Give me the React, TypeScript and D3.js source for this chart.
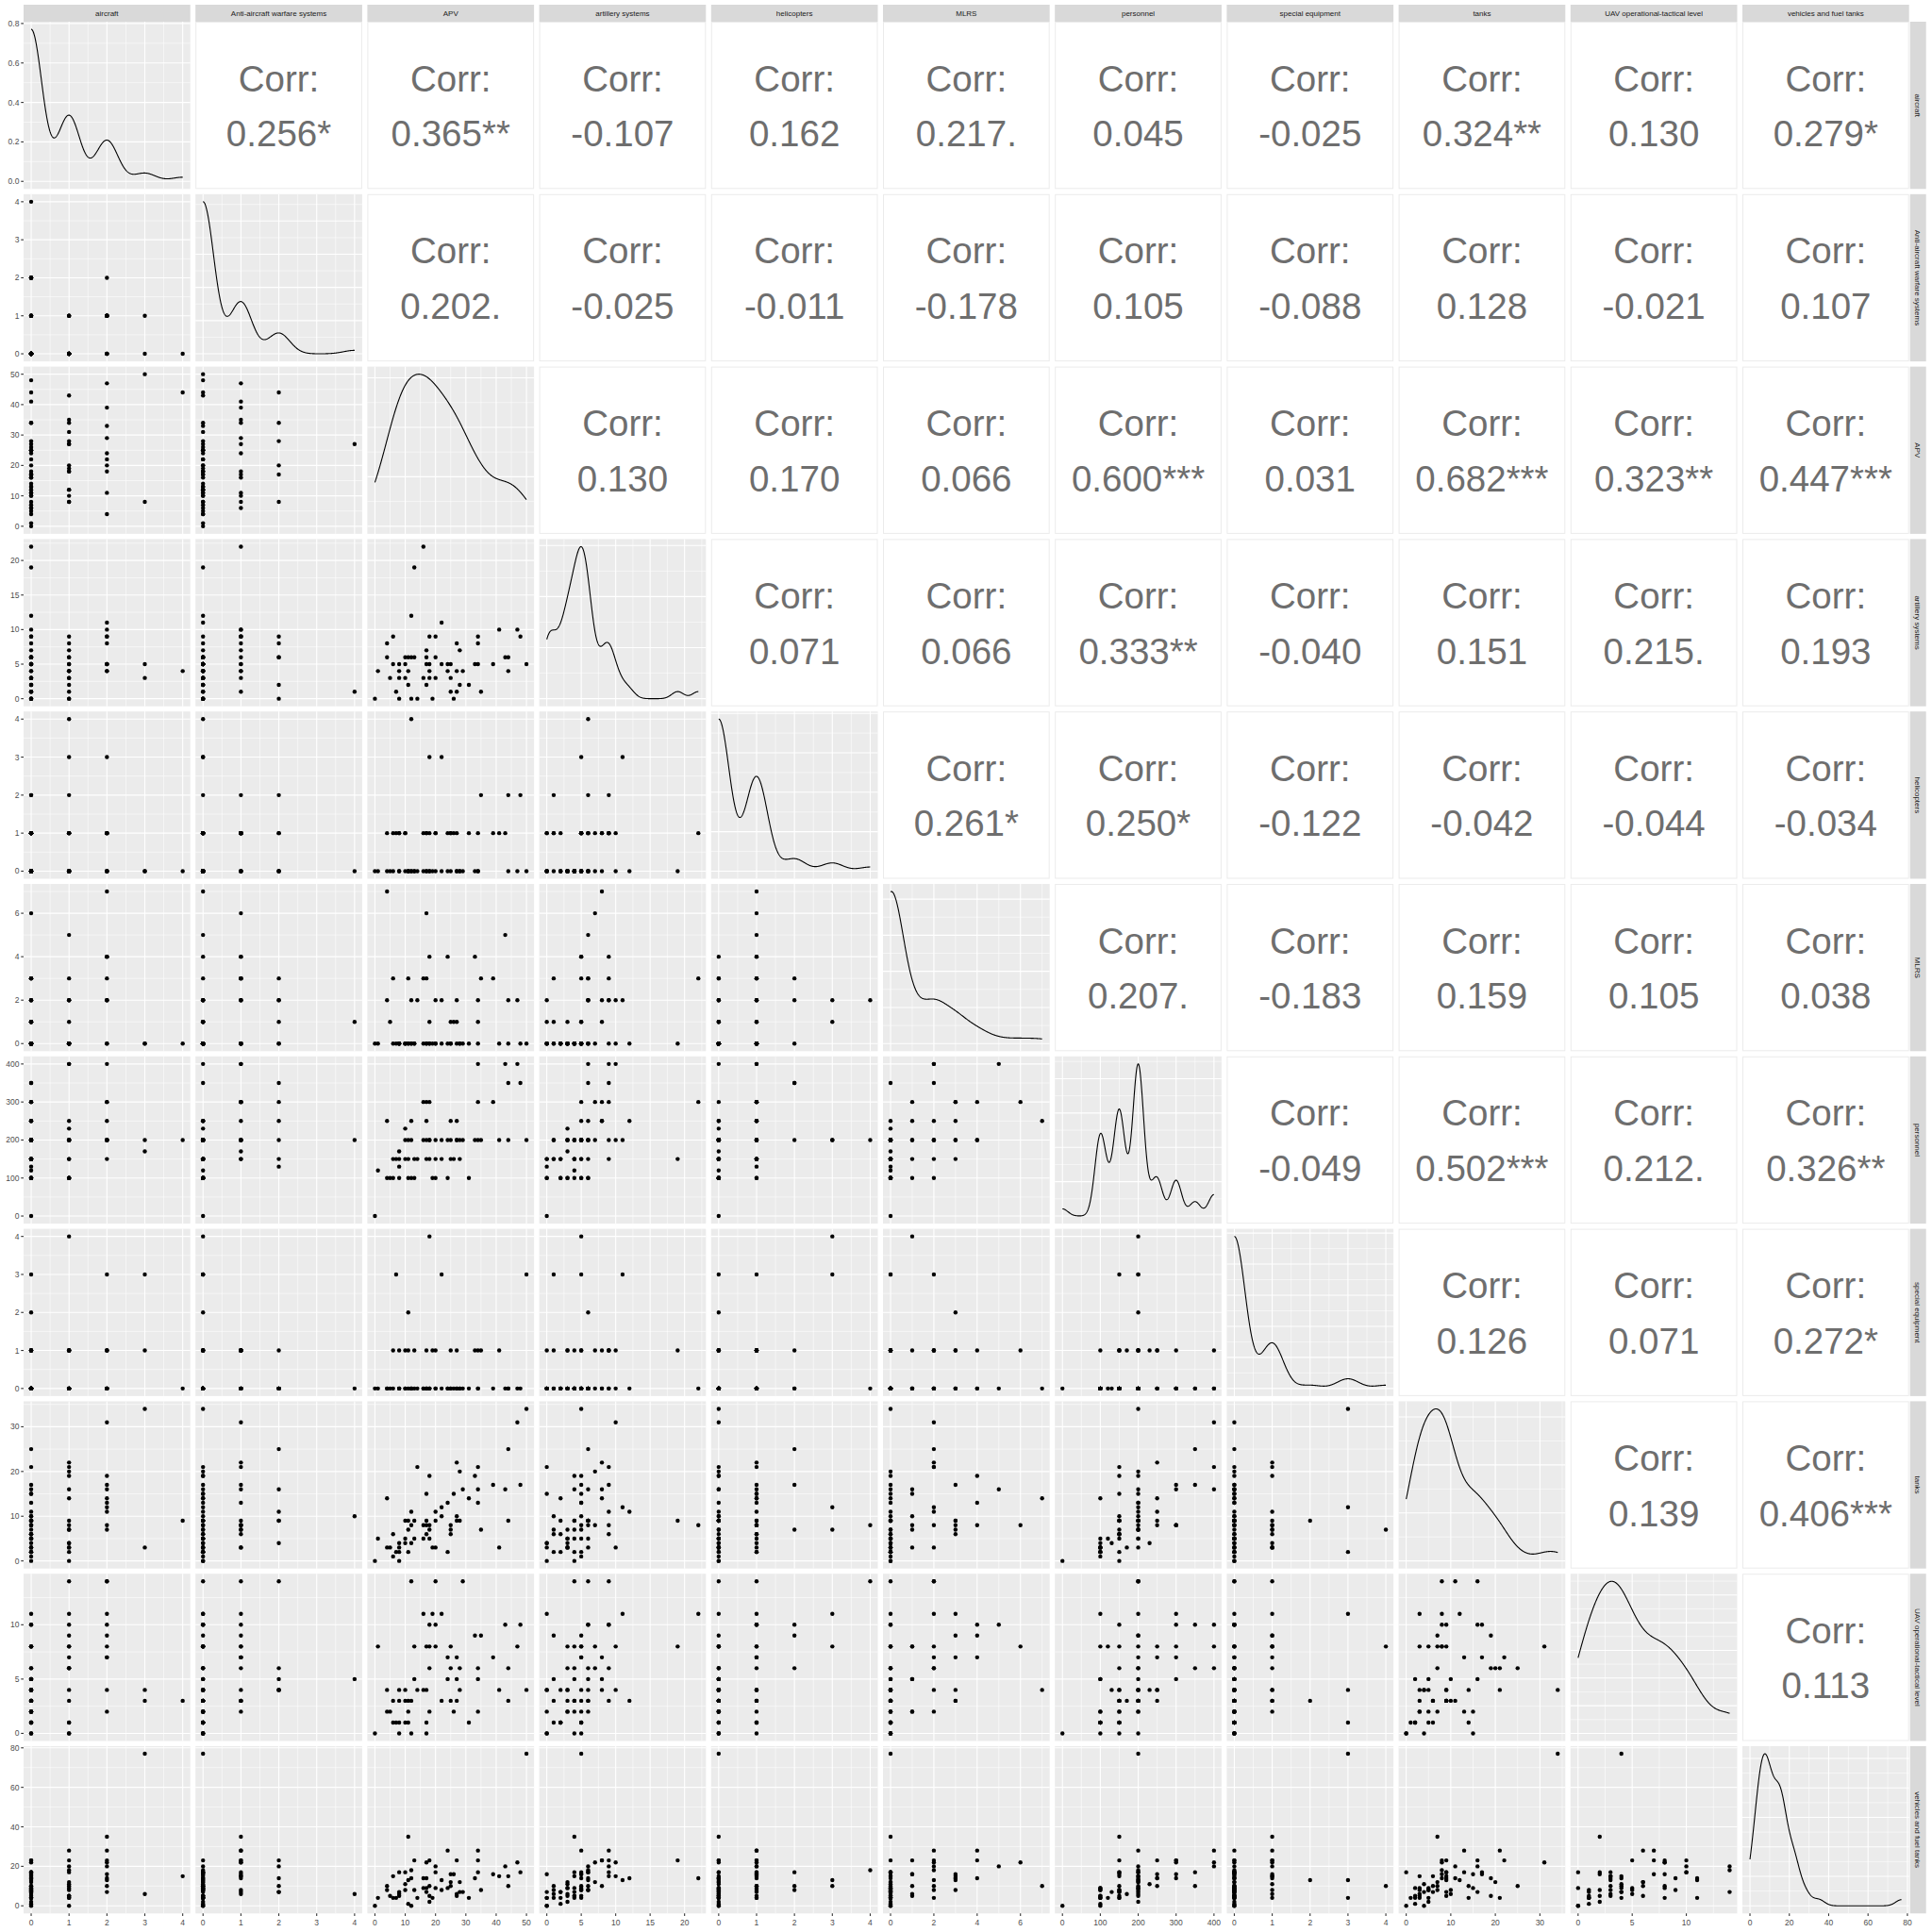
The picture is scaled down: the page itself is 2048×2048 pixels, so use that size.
import React from "react";
import * as d3 from "d3";

// ---- variables (one row per observation) ----
const varNames = [
  "aircraft",
  "Anti-aircraft warfare systems",
  "APV",
  "artillery systems",
  "helicopters",
  "MLRS",
  "personnel",
  "special equipment",
  "tanks",
  "UAV operational-tactical level",
  "vehicles and fuel tanks",
];

const apv = [0,1,4,4,5,6,6,7,8,8,8,8,10,10,10,11,11,11,12,12,12,13,13,14,16,17,18,16,17,17,17,18,18,18,19,20,20,20,22,22,24,24,25,25,25,26,27,27,27,28,28,29,31,33,34,34,34,35,39,41,43,44,44,48,47,50];
const tanks = [0,5,14,3,3,6,1,2,2,3,4,0,5,4,9,9,7,2,8,11,4,9,5,21,8,8,8,5,9,15,6,7,19,5,3,3,11,9,12,10,13,2,8,7,6,15,22,10,9,9,20,16,14,19,21,16,13,7,17,3,16,9,25,17,31,34];
const artillery = [0,4,8,6,3,9,5,1,5,3,0,4,5,3,6,6,4,2,6,12,0,19,6,0,22,7,9,3,6,5,2,5,4,3,0,3,9,6,11,5,5,4,5,3,1,0,8,1,4,2,7,4,2,5,9,8,5,1,5,10,6,4,6,9,10,5];
const helicopters = [0,0,1,0,0,1,0,1,1,0,1,0,1,0,1,0,0,0,4,0,0,0,0,0,1,1,1,0,0,1,0,3,0,0,0,0,1,1,3,0,1,0,1,0,1,1,1,0,0,0,0,0,1,0,1,0,0,2,1,1,1,0,2,2,0,0];
const mlrs = [0,0,7,2,1,3,0,0,0,0,0,0,0,0,0,3,0,0,2,0,0,0,0,2,3,6,4,0,3,0,0,1,0,0,0,0,2,0,2,0,4,0,1,0,0,1,2,1,0,0,0,0,0,4,2,1,0,3,3,0,5,0,2,0,2,0];
const personnel = [0,120,250,100,100,150,100,150,100,170,130,150,150,230,200,200,150,100,200,250,100,150,100,150,300,300,300,200,250,200,150,200,150,200,100,100,200,150,200,150,200,100,250,200,150,150,250,200,200,150,200,200,100,200,400,300,200,200,300,200,400,200,350,350,400,200];
const specialEquipment = [0,0,0,0,0,1,0,3,0,1,0,0,0,1,0,2,1,0,0,0,0,1,0,0,0,1,0,0,0,0,0,4,0,0,1,0,1,0,3,0,0,0,1,0,0,0,1,0,0,0,0,0,0,1,1,0,0,1,0,1,0,0,0,0,0,3];
const uav = [0,8,4,2,2,3,1,1,1,3,4,0,1,4,3,3,2,1,14,3,0,8,5,4,11,8,10,4,4,0,1,8,6,2,11,8,14,10,11,3,7,5,8,6,3,2,7,5,3,4,6,14,1,9,6,5,2,9,7,4,10,3,6,10,8,4];
const vehicles = [0,4,10,8,5,15,4,4,5,6,7,17,8,11,17,13,35,1,18,14,0,23,8,4,14,22,23,9,14,9,7,10,5,2,4,9,20,17,13,8,28,9,16,12,10,16,23,6,5,7,12,7,4,14,28,23,17,8,16,15,20,15,10,17,22,77];
const aircraft = [0,0,2,0,0,0,0,0,1,3,0,1,0,1,0,0,2,0,1,0,1,0,0,0,0,0,2,0,0,0,0,1,1,0,1,1,2,0,2,0,2,0,0,0,0,0,1,0,1,0,1,2,1,2,1,0,0,1,2,0,1,4,0,0,2,3];
const antiAircraft = [0,0,0,0,0,1,0,0,0,1,2,0,0,0,1,0,1,0,0,0,0,0,0,0,1,1,1,0,2,0,0,0,0,0,0,0,2,0,0,0,1,0,0,0,0,0,1,4,0,2,0,1,0,0,1,2,0,1,1,1,0,0,2,0,1,0];

const columns = [aircraft, antiAircraft, apv, artillery, helicopters, mlrs, personnel, specialEquipment, tanks, uav, vehicles];

// ---- axis tick labels per variable ----
const tickValues = [
  [0, 1, 2, 3, 4],
  [0, 1, 2, 3, 4],
  [0, 10, 20, 30, 40, 50],
  [0, 5, 10, 15, 20],
  [0, 1, 2, 3, 4],
  [0, 2, 4, 6],
  [0, 100, 200, 300, 400],
  [0, 1, 2, 3, 4],
  [0, 10, 20, 30],
  [0, 5, 10],
  [0, 20, 40, 60, 80],
];

// ---- correlation labels (upper triangle, row by row) ----
const corrRow0 = ["0.256*", "0.365**", "-0.107", "0.162", "0.217.", "0.045", "-0.025", "0.324**", "0.130", "0.279*"];
const corrRow1 = ["0.202.", "-0.025", "-0.011", "-0.178", "0.105", "-0.088", "0.128", "-0.021", "0.107"];
const corrRow2 = ["0.130", "0.170", "0.066", "0.600***", "0.031", "0.682***", "0.323**", "0.447***"];
const corrRow3 = ["0.071", "0.066", "0.333**", "-0.040", "0.151", "0.215.", "0.193"];
const corrRow4 = ["0.261*", "0.250*", "-0.122", "-0.042", "-0.044", "-0.034"];
const corrRow5 = ["0.207.", "-0.183", "0.159", "0.105", "0.038"];
const corrRow6 = ["-0.049", "0.502***", "0.212.", "0.326**"];
const corrRow7 = ["0.126", "0.071", "0.272*"];
const corrRow8 = ["0.139", "0.406***"];
const corrRow9 = ["0.113"];
const corrRows = [corrRow0, corrRow1, corrRow2, corrRow3, corrRow4, corrRow5, corrRow6, corrRow7, corrRow8, corrRow9];

// ---- helpers ----
function bwNrd0(x: number[]) {
  const s = [...x].sort((a, b) => a - b);
  const hi = d3.deviation(s) || 0;
  const iqr = (d3.quantile(s, 0.75) || 0) - (d3.quantile(s, 0.25) || 0);
  let lo = Math.min(hi, iqr / 1.34);
  if (!lo) lo = hi || Math.abs(s[0]) || 1;
  return 0.9 * lo * Math.pow(s.length, -0.2);
}

function kde(x: number[]) {
  const bw = bwNrd0(x);
  const [mn, mx] = d3.extent(x) as [number, number];
  const n = 512;
  const out: [number, number][] = [];
  const c = 1 / (x.length * bw * Math.sqrt(2 * Math.PI));
  for (let i = 0; i < n; i++) {
    const g = mn + ((mx - mn) * i) / (n - 1);
    let s = 0;
    for (const xi of x) {
      const z = (g - xi) / bw;
      s += Math.exp(-0.5 * z * z);
    }
    out.push([g, s * c]);
  }
  return out;
}

function minorBreaks(major: number[], dom: number[]) {
  if (major.length < 2) return [];
  const step = major[1] - major[0];
  const ext = [major[0] - step, ...major, major[major.length - 1] + step];
  const mids: number[] = [];
  for (let i = 0; i < ext.length - 1; i++) mids.push((ext[i] + ext[i + 1]) / 2);
  return mids.filter((m) => m >= dom[0] && m <= dom[1]);
}

const FONT = "'Liberation Sans', Arial, Helvetica, sans-serif";

export default function App() {
  const N = columns.length;
  const left0 = 25, top0 = 23, pw = 176.7, ph = 177.3, gx = 5.5, gy = 5.5;
  const colX = (c: number) => left0 + c * (pw + gx);
  const rowY = (r: number) => top0 + r * (ph + gy);

  const domains = columns.map((v) => {
    const [mn, mx] = d3.extent(v) as [number, number];
    const pad = (mx - mn) * 0.05;
    return [mn - pad, mx + pad];
  });
  const xScales = domains.map((d) => d3.scaleLinear().domain(d).range([0, pw]));
  const yScales = domains.map((d) => d3.scaleLinear().domain(d).range([ph, 0]));

  const dens = columns.map((v) => kde(v));
  const densInfo = dens.map((dd) => {
    const mx = d3.max(dd, (p) => p[1]) as number;
    const dom = [-0.05 * mx, 1.05 * mx];
    const ys = d3.scaleLinear().domain(dom).range([ph, 0]);
    const ticks = d3.ticks(0, mx * 1.05, 4).filter((t) => t >= dom[0] && t <= dom[1]);
    return { ys, ticks, dom };
  });

  const panels: React.ReactNode[] = [];
  const clipDefs: React.ReactNode[] = [];

  for (let r = 0; r < N; r++) {
    for (let c = 0; c < N; c++) {
      const tx = colX(c), ty = rowY(r);
      const key = `p${r}-${c}`;
      if (c > r) {
        const label = corrRows[r][c - r - 1];
        panels.push(
          <g key={key} transform={`translate(${tx},${ty})`}>
            <rect x={0.5} y={0.5} width={pw - 1} height={ph - 1} fill="#FFFFFF" stroke="#EBEBEB" strokeWidth={1} />
            <text x={pw / 2} y={ph / 2 - 15} textAnchor="middle" fontSize={38.5} fill="#6E6E6E" fontFamily={FONT}>Corr:</text>
            <text x={pw / 2} y={ph / 2 + 43.5} textAnchor="middle" fontSize={38.5} fill="#6E6E6E" fontFamily={FONT}>{label}</text>
          </g>
        );
        continue;
      }
      const xs = xScales[c];
      const xMaj = tickValues[c].filter((t) => t >= domains[c][0] && t <= domains[c][1]);
      const xMin = minorBreaks(tickValues[c], domains[c]);
      let ys: d3.ScaleLinear<number, number>;
      let yMaj: number[];
      let yMin: number[];
      if (r === c) {
        ys = densInfo[c].ys;
        yMaj = densInfo[c].ticks;
        yMin = minorBreaks(densInfo[c].ticks, densInfo[c].dom);
      } else {
        ys = yScales[r];
        yMaj = tickValues[r].filter((t) => t >= domains[r][0] && t <= domains[r][1]);
        yMin = minorBreaks(tickValues[r], domains[r]);
      }
      const clipId = `clip${r}-${c}`;
      clipDefs.push(
        <clipPath id={clipId} key={clipId}>
          <rect x={0} y={0} width={pw} height={ph} />
        </clipPath>
      );
      let content: React.ReactNode;
      if (r === c) {
        const line = d3.line<[number, number]>().x((p) => xs(p[0])).y((p) => ys(p[1]));
        content = <path d={line(dens[c]) || ""} fill="none" stroke="#000000" strokeWidth={1.1} />;
      } else {
        const xv = columns[c], yv = columns[r];
        content = xv.map((v, i) => (
          <circle key={i} cx={xs(v)} cy={ys(yv[i])} r={2.2} fill="#000000" />
        ));
      }
      panels.push(
        <g key={key} transform={`translate(${tx},${ty})`}>
          <rect x={0} y={0} width={pw} height={ph} fill="#EBEBEB" />
          {xMin.map((t, i) => (
            <line key={`xm${i}`} x1={xs(t)} x2={xs(t)} y1={0} y2={ph} stroke="#FFFFFF" strokeWidth={0.55} />
          ))}
          {yMin.map((t, i) => (
            <line key={`ym${i}`} x1={0} x2={pw} y1={ys(t)} y2={ys(t)} stroke="#FFFFFF" strokeWidth={0.55} />
          ))}
          {xMaj.map((t, i) => (
            <line key={`xM${i}`} x1={xs(t)} x2={xs(t)} y1={0} y2={ph} stroke="#FFFFFF" strokeWidth={1.1} />
          ))}
          {yMaj.map((t, i) => (
            <line key={`yM${i}`} x1={0} x2={pw} y1={ys(t)} y2={ys(t)} stroke="#FFFFFF" strokeWidth={1.1} />
          ))}
          <g clipPath={`url(#${clipId})`}>{content}</g>
        </g>
      );
    }
  }

  // axes
  const axes: React.ReactNode[] = [];
  const bottomY = rowY(N - 1) + ph;
  for (let c = 0; c < N; c++) {
    const xs = xScales[c];
    tickValues[c]
      .filter((t) => t >= domains[c][0] && t <= domains[c][1])
      .forEach((t, i) => {
        const x = colX(c) + xs(t);
        axes.push(<line key={`bt${c}-${i}`} x1={x} x2={x} y1={bottomY} y2={bottomY + 2.75} stroke="#333333" strokeWidth={1.1} />);
        axes.push(
          <text key={`bl${c}-${i}`} x={x} y={bottomY + 12.8} textAnchor="middle" fontSize={8.5} fill="#4D4D4D" fontFamily={FONT}>{String(t)}</text>
        );
      });
  }
  for (let r = 0; r < N; r++) {
    let ys: d3.ScaleLinear<number, number>;
    let ticks: number[];
    let fmt: (v: number) => string;
    if (r === 0) {
      ys = densInfo[0].ys;
      ticks = densInfo[0].ticks;
      const step = ticks.length > 1 ? ticks[1] - ticks[0] : 1;
      fmt = d3.format(`.${d3.precisionFixed(step)}f`);
    } else {
      ys = yScales[r];
      ticks = tickValues[r].filter((t) => t >= domains[r][0] && t <= domains[r][1]);
      fmt = (v) => String(v);
    }
    ticks.forEach((t, i) => {
      const y = rowY(r) + ys(t);
      axes.push(<line key={`lt${r}-${i}`} x1={left0 - 2.75} x2={left0} y1={y} y2={y} stroke="#333333" strokeWidth={1.1} />);
      axes.push(
        <text key={`ll${r}-${i}`} x={left0 - 4.6} y={y + 3} textAnchor="end" fontSize={8.5} fill="#4D4D4D" fontFamily={FONT}>{fmt(t)}</text>
      );
    });
  }

  // strips
  const strips: React.ReactNode[] = [];
  for (let c = 0; c < N; c++) {
    strips.push(<rect key={`st${c}`} x={colX(c)} y={5} width={pw} height={top0 - 5} fill="#D9D9D9" />);
    strips.push(
      <text key={`stt${c}`} x={colX(c) + pw / 2} y={17} textAnchor="middle" fontSize={8} fill="#1A1A1A" fontFamily={FONT}>{varNames[c]}</text>
    );
  }
  const stripX = colX(N - 1) + pw + 1;
  for (let r = 0; r < N; r++) {
    strips.push(<rect key={`sr${r}`} x={stripX} y={rowY(r)} width={17} height={ph} fill="#D9D9D9" />);
    strips.push(
      <text key={`srt${r}`} transform={`translate(${stripX + 8.5},${rowY(r) + ph / 2}) rotate(90)`} y={2.8} textAnchor="middle" fontSize={8} fill="#1A1A1A" fontFamily={FONT}>{varNames[r]}</text>
    );
  }

  return (
    <div style={{ position: "absolute", left: 0, top: 0 }}>
      <svg width={2048} height={2048} style={{ display: "block" }}>
        <defs>{clipDefs}</defs>
        <rect x={0} y={0} width={2048} height={2048} fill="#FFFFFF" />
        {strips}
        {panels}
        {axes}
      </svg>
    </div>
  );
}
